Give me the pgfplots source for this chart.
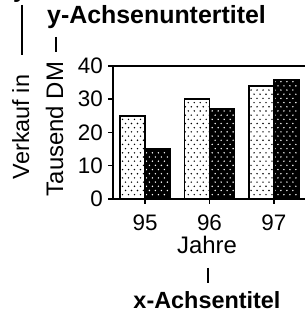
\documentclass[border=0pt]{standalone}
\usepackage{pgfplots}
\pgfplotsset{compat=1.18}
\usepackage{fontspec}
\setmainfont{Liberation Sans}
\usetikzlibrary{patterns}
\pgfdeclarepatternformonly{mydots}{\pgfqpoint{-1pt}{-1pt}}{\pgfqpoint{7pt}{9pt}}{\pgfqpoint{6pt}{8.4pt}}{%
  \pgfpathcircle{\pgfqpoint{0pt}{0pt}}{0.8pt}%
  \pgfpathcircle{\pgfqpoint{3pt}{4.2pt}}{0.8pt}%
  \pgfusepath{fill}}
\begin{document}
\begin{tikzpicture}[x=1bp,y=1bp]
\useasboundingbox (0,0) rectangle (305,316);
\begin{axis}[
  at={(113bp,117bp)}, anchor=south west,
  scale only axis, width=193bp, height=133bp,
  xmin=-0.5, xmax=2.5, ymin=0, ymax=40,
  ybar=0pt, bar width=25bp,
  xtick={0,1,2}, xticklabels={95,96,97},
  ytick={0,10,20,30,40},
  tick align=outside, xtick pos=bottom, ytick pos=left,
  major tick length=5bp,
  axis line style={line width=1.5bp},
  every tick/.style={black, line width=1.5bp},
  /pgf/number format/assume math mode=true,
  tick label style={font=\fontsize{22.5}{24}\selectfont},
  yticklabel style={inner sep=0pt, xshift=-5bp},
  xticklabel style={inner sep=0pt, yshift=-11bp},
]
\addplot[draw=black, line width=1.5bp, fill=white, postaction={pattern=mydots, pattern color=black}]
  coordinates {(0,25) (1,30) (2,34)};
\addplot[draw=black, line width=1.5bp, fill=black, postaction={pattern=mydots, pattern color=white}]
  coordinates {(0,15) (1,27) (2,36)};
\end{axis}
% x axis label and title
\node[anchor=base, inner sep=0pt, font=\fontsize{24}{26}\selectfont] at (207,63) {Jahre};
\draw[line width=1.5bp] (208,48) -- (208,33);
\node[anchor=base, inner sep=0pt, font=\fontsize{23.5}{25}\selectfont\bfseries] at (207,8) {x-Achsentitel};
% y axis subtitle and label
\node[anchor=base west, inner sep=0pt, font=\fontsize{25}{27}\selectfont\bfseries] at (47,293) {y-Achsenuntertitel};
\draw[line width=1.5bp] (56,279) -- (56,264);
\node[rotate=90, anchor=base, inner sep=0pt, font=\fontsize{24}{26}\selectfont] at (63,187) {Tausend DM};
% y axis label and title
\draw[line width=1.5bp] (22,311) -- (22,261);
\node[rotate=90, anchor=base, inner sep=0pt, font=\fontsize{23.5}{25}\selectfont] at (29,189) {Verkauf in};
\node[anchor=base west, inner sep=0pt, font=\fontsize{24}{26}\selectfont\bfseries] at (13,319) {y-Achsentitel};
\end{tikzpicture}
\end{document}
